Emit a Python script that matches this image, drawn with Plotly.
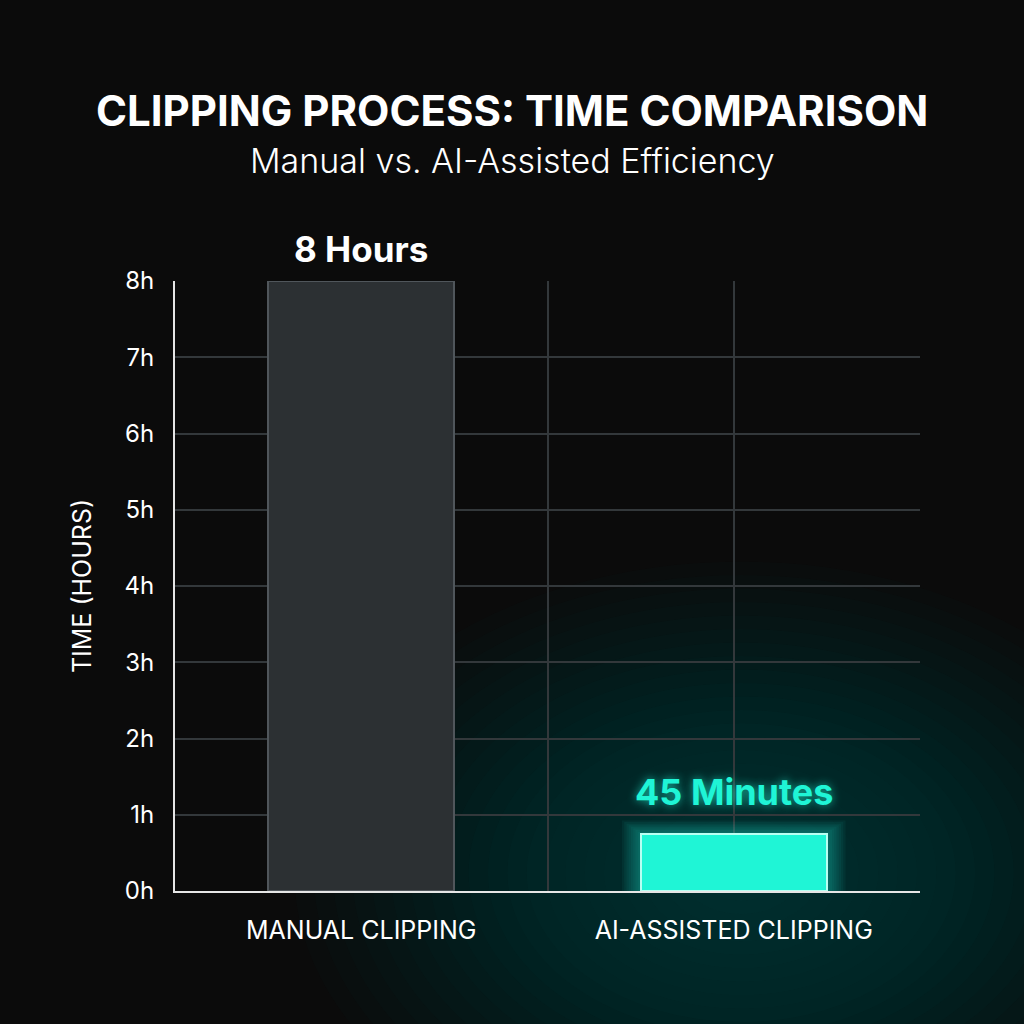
import plotly.graph_objects as go

categories = ["MANUAL CLIPPING", "AI-ASSISTED CLIPPING"]
hours = [8, 0.75]
bar_labels = ["8 Hours", "45 Minutes"]
y_ticks = [0, 1, 2, 3, 4, 5, 6, 7, 8]
y_tick_labels = [f"{v}h" for v in y_ticks]

FONT = "Inter"
BG = "#0b0b0b"
TEAL = "#1ff5d6"
GRID = "#33383b"

xpos = [i + 0.5 for i in range(len(categories))]

fig = go.Figure()

fig.add_trace(go.Bar(
    x=[xpos[0]], y=[hours[0]], width=0.5,
    marker=dict(color="#2c3033", line=dict(color="#50565b", width=2)),
    hoverinfo="skip", showlegend=False,
))
fig.add_trace(go.Bar(
    x=[xpos[1]], y=[hours[1]], width=0.5,
    marker=dict(color=TEAL, line=dict(color="#b8fff2", width=2)),
    hoverinfo="skip", showlegend=False,
))

shapes = []
# soft radial teal glow near bottom right
for k in range(22):
    r = 0.6 - k * 0.026
    shapes.append(dict(type="circle", xref="paper", yref="paper", layer="below",
                       x0=0.76 - r, x1=0.76 + r, y0=0.03 - r * 0.85, y1=0.03 + r * 0.85,
                       fillcolor="rgba(18,105,105,0.028)", line=dict(width=0)))
# glow halo around the AI bar
for k in range(8):
    pad = 0.05 - k * 0.006
    shapes.append(dict(type="rect", xref="x", yref="y", layer="between",
                       x0=xpos[1] - 0.25 - pad, x1=xpos[1] + 0.25 + pad,
                       y0=0, y1=hours[1] + pad * 3.5,
                       fillcolor="rgba(31,245,214,0.05)", line=dict(width=0)))

CX = (512 - 175) / 745  # page centre in paper units

annotations = [
    dict(text="<b>CLIPPING PROCESS: TIME COMPARISON</b>", xref="paper", yref="paper",
         x=CX, y=1.280, xanchor="center", yanchor="middle", showarrow=False,
         font=dict(family=FONT, size=42, color="white")),
    dict(text="Manual vs. AI-Assisted Efficiency", xref="paper", yref="paper",
         x=CX, y=1.198, xanchor="center", yanchor="middle", showarrow=False,
         font=dict(family=FONT, size=34, color="white", weight=300)),
    dict(text=bar_labels[0], xref="x", yref="y", x=xpos[0], y=hours[0],
         xanchor="center", yanchor="middle", yshift=32, showarrow=False,
         font=dict(family=FONT, size=35, color="white", weight="bold")),
    dict(text=bar_labels[1], xref="x", yref="y", x=xpos[1], y=hours[1],
         xanchor="center", yanchor="middle", yshift=42, showarrow=False,
         font=dict(family=FONT, size=36, color=TEAL, weight="bold",
                   shadow="0px 0px 10px rgba(31,245,214,0.7)")),
]

fig.update_layout(
    width=1024, height=1024,
    paper_bgcolor=BG, plot_bgcolor=BG,
    margin=dict(l=175, r=104, t=281, b=133),
    shapes=shapes, annotations=annotations,
    font=dict(family=FONT, color="white"),
    xaxis=dict(
        range=[0, 2], tickvals=[0.5, 1, 1.5, 2],
        ticktext=[categories[0], "", categories[1], ""],
        showgrid=True, gridcolor=GRID, gridwidth=1.5,
        showline=True, linecolor="#e6e6e6", linewidth=2,
        ticks="", ticklabelstandoff=16,
        tickfont=dict(family=FONT, size=25, color="white"),
        zeroline=False, fixedrange=True,
    ),
    yaxis=dict(
        range=[0, 8], tickvals=y_ticks, ticktext=y_tick_labels,
        showgrid=True, gridcolor=GRID, gridwidth=1.5,
        showline=True, linecolor="#e6e6e6", linewidth=2,
        ticks="", ticklabelstandoff=14,
        tickfont=dict(family=FONT, size=24, color="white"),
        title=dict(text="TIME (HOURS)", standoff=26,
                   font=dict(family=FONT, size=25, color="white")),
        zeroline=False, fixedrange=True,
    ),
    bargap=0,
)

fig.write_html("out.html", config={"displayModeBar": False},
               post_script="document.body.style.margin='0';document.body.style.background='#0b0b0b';")
